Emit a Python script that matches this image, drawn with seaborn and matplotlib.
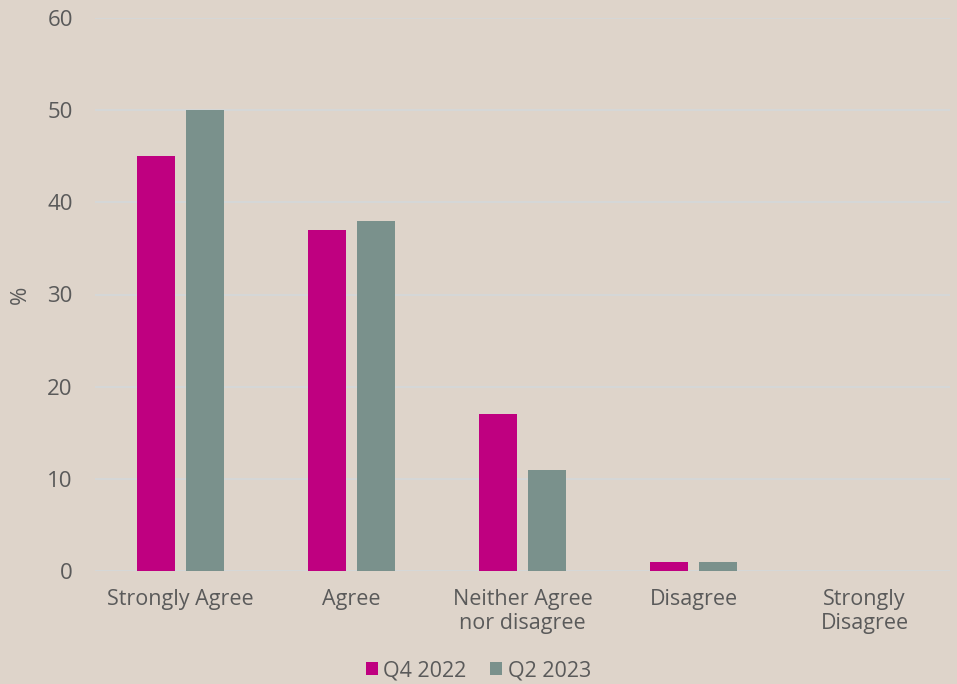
import matplotlib
matplotlib.use("Agg")
import matplotlib.pyplot as plt
import seaborn as sns
import pandas as pd

categories = ["Strongly Agree", "Agree", "Neither Agree\nnor disagree", "Disagree", "Strongly\nDisagree"]
series_names = ["Q4 2022", "Q2 2023"]
q4_2022 = [45, 37, 17, 1, 0]
q2_2023 = [50, 38, 11, 1, 0]
y_ticks = [0, 10, 20, 30, 40, 50, 60]
colors = ["#BF0080", "#7A918C"]

df = pd.DataFrame({
    "category": categories * 2,
    "series": [series_names[0]] * len(categories) + [series_names[1]] * len(categories),
    "value": q4_2022 + q2_2023,
})

bg = "#DED4CA"
txt = "#5A5A5A"
sns.set_theme(style="white")
plt.rcParams["font.family"] = ["Open Sans", "DejaVu Sans"]

fig = plt.figure(figsize=(9.57, 6.84), dpi=100, facecolor=bg)
ax = fig.add_axes([95/957, 1 - 571/684, 855/957, (571 - 18)/684])
ax.set_facecolor(bg)

sns.barplot(data=df, x="category", y="value", hue="series", palette=colors,
            width=0.57, gap=0.22, ax=ax, legend=True, saturation=1, errorbar=None,
            linewidth=0, edgecolor="none")

ax.set_xlim(-0.5, 4.5)
ax.set_ylim(0, 60)
ax.set_yticks(y_ticks)
ax.set_yticklabels([str(v) for v in y_ticks], fontsize=16, color=txt)
ax.tick_params(axis="x", labelsize=15.5, colors=txt, length=0, pad=13)
ax.tick_params(axis="y", length=0, pad=16)
for lab in ax.get_xticklabels():
    lab.set_color(txt)
    lab.set_linespacing(1.2)
ax.grid(axis="y", color="#D4D8DA", linewidth=1.2)
ax.set_axisbelow(True)
for s in ax.spines.values():
    s.set_visible(False)
ax.set_xlabel("")
ax.set_ylabel("%", fontsize=16, color=txt, labelpad=12)

leg = ax.legend(loc="center", bbox_to_anchor=(0.5, (684 - 671) / 684), bbox_transform=fig.transFigure,
                ncol=2, frameon=False, fontsize=15.5, handlelength=0.55, handleheight=0.55,
                handletextpad=0.25, columnspacing=1.1)
for t in leg.get_texts():
    t.set_color(txt)

fig.savefig("out.png", dpi=100, facecolor=bg)
